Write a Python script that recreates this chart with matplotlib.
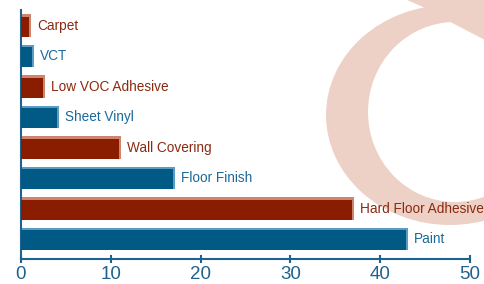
import numpy as np
import matplotlib
matplotlib.use("Agg")
import matplotlib.pyplot as plt
from matplotlib.patches import Ellipse, Polygon
import matplotlib.transforms as mtransforms

# data, top to bottom as shown
labels = ['Carpet', 'VCT', 'Low VOC Adhesive', 'Sheet Vinyl', 'Wall Covering',
          'Floor Finish', 'Hard Floor Adhesive', 'Paint']
values = [1.1, 1.4, 2.7, 4.2, 11.1, 17.1, 37.1, 43.1]
xticks = [0, 10, 20, 30, 40, 50]

red, red_hi, red_txt = '#8a1c00', '#cf8470', '#8b2a10'
blue, blue_hi, blue_txt = '#005a85', '#5a9cc4', '#1a6a9a'
axis_col = '#1f628e'
swoosh = '#edd1c6'

plt.rcParams['font.family'] = ['Liberation Sans', 'DejaVu Sans']

fig = plt.figure(figsize=(4.85, 2.84), dpi=100)

# decorative swoosh in the background (pixel coords, y from top)
px = mtransforms.Affine2D().scale(1 / 485, -1 / 284).translate(0, 1) + fig.transFigure
fig.add_artist(Ellipse((450, 115), 248, 220, facecolor=swoosh, edgecolor='none',
                       transform=px, zorder=0))
fig.add_artist(Polygon([(407, 0), (485, 0), (485, 40), (435, 14), (423, 7)],
                       closed=True, facecolor=swoosh, edgecolor='none',
                       transform=px, zorder=0))
hole = Ellipse((455, 112), 174, 180, facecolor='white', edgecolor='none',
               transform=px, zorder=0.5)
below = Polygon([(300, 65), (435, 14), (485, 40), (485, 284), (300, 284)],
                closed=True, transform=px)
hole.set_clip_path(below)
fig.add_artist(hole)

ax = fig.add_axes([21 / 485, 1 - 259 / 284, (470 - 21) / 485, (259 - 10) / 284])
ax.patch.set_alpha(0)

n = len(labels)
ypos = np.arange(n)[::-1]
bar_cols = [red if i % 2 == 0 else blue for i in range(n)]
hi_cols = [red_hi if i % 2 == 0 else blue_hi for i in range(n)]
txt_cols = [red_txt if i % 2 == 0 else blue_txt for i in range(n)]

h = 0.75
ax.barh(ypos, values, height=h, color=hi_cols, zorder=2)
ax.barh(ypos - 0.04, np.array(values) - 0.22, height=h - 0.08, color=bar_cols, zorder=3)

for y, v, lab, c in zip(ypos, values, labels, txt_cols):
    ax.annotate(lab, (v, y), xytext=(4.5, 0), textcoords='offset points',
                va='center', ha='left', color=c, fontsize=9.8, zorder=4,
                annotation_clip=False)

ax.set_xlim(0, 50)
ax.set_ylim(-0.656, 7.51)
ax.set_xticks(xticks)
ax.set_yticks([])
ax.tick_params(axis='x', direction='inout', length=6, width=1.5, colors=axis_col,
               labelsize=13.5, pad=2)
for s in ['top', 'right']:
    ax.spines[s].set_visible(False)
for s in ['left', 'bottom']:
    ax.spines[s].set_color(axis_col)
    ax.spines[s].set_linewidth(1.5)

fig.savefig('out.png', dpi=100)
